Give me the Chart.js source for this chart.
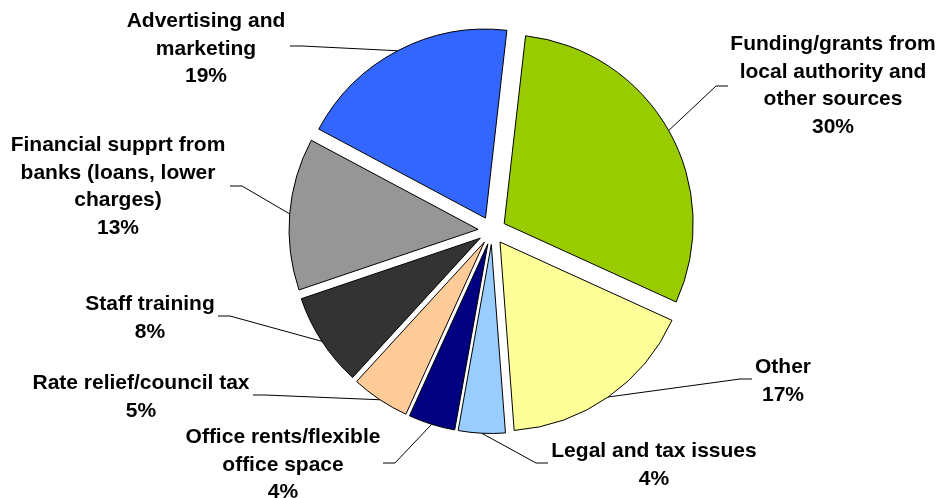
<!DOCTYPE html>
<html>
<head>
<meta charset="utf-8">
<script src="https://cdn.jsdelivr.net/npm/chart.js@4.4.1/dist/chart.umd.min.js"></script>
<style>
  html, body { margin: 0; padding: 0; background: #fff; }
  #wrap { width: 940px; height: 498px; }
</style>
</head>
<body>
<div id="wrap"><canvas id="chart" width="940" height="498"></canvas></div>
<script>
// slices, clockwise from the top
const categories = [
  ['Funding/grants from', 'local authority and', 'other sources'],
  ['Other'],
  ['Legal and tax issues'],
  ['Office rents/flexible', 'office space'],
  ['Rate relief/council tax'],
  ['Staff training'],
  ['Financial supprt from', 'banks (loans, lower', 'charges)'],
  ['Advertising and', 'marketing']
];
const values = [30, 17, 4, 4, 5, 8, 13, 19];
const colors = ['#99CC00', '#FFFF99', '#99CCFF', '#000080', '#FFCC99', '#333333', '#969696', '#3366FF'];

// label placement: centre x, top of first line, leader start and which way its stub runs
const labelPos = [
  { x: 833, top: 35,  lx: 728, ly: 86,  side: -1 },
  { x: 783, top: 358, lx: 752, ly: 379, side: -1 },
  { x: 654, top: 442, lx: 548, ly: 463, side: -1 },
  { x: 283, top: 428, lx: 383, ly: 463, side: 1 },
  { x: 141, top: 374, lx: 253, ly: 395, side: 1 },
  { x: 150, top: 295, lx: 218, ly: 316, side: 1 },
  { x: 118, top: 136, lx: 230, ly: 186, side: 1 },
  { x: 206, top: 12,  lx: 290, ly: 46,  side: 1 }
];

const EXPLODE = 14;
const LINE_H = 27.5;

// push every slice out along its middle angle without growing it
const Arc = Chart.ArcElement || Chart.elements.ArcElement;
const baseArcDraw = Arc.prototype.draw;
Arc.prototype.draw = function (ctx, area) {
  const mid = (this.startAngle + this.endAngle) / 2;
  ctx.save();
  ctx.translate(Math.cos(mid) * EXPLODE, Math.sin(mid) * EXPLODE);
  baseArcDraw.call(this, ctx, area);
  ctx.restore();
};

const pieLabels = {
  id: 'pieLabels',
  afterDatasetsDraw(chart) {
    const ctx = chart.ctx;
    const arcs = chart.getDatasetMeta(0).data;
    ctx.save();
    ctx.strokeStyle = '#000';
    ctx.fillStyle = '#000';
    ctx.lineWidth = 1;
    ctx.font = 'bold 21px "Liberation Sans", Arial, sans-serif';
    ctx.textAlign = 'center';
    ctx.textBaseline = 'alphabetic';
    arcs.forEach((arc, i) => {
      const mid = (arc.startAngle + arc.endAngle) / 2;
      const r = arc.outerRadius + EXPLODE;
      const px = arc.x + Math.cos(mid) * r;
      const py = arc.y + Math.sin(mid) * r;
      const p = labelPos[i];
      ctx.beginPath();
      ctx.moveTo(p.lx, p.ly);
      ctx.lineTo(p.lx + p.side * 12, p.ly);
      ctx.lineTo(px, py);
      ctx.stroke();
      const lines = categories[i].concat([values[i] + '%']);
      lines.forEach((t, k) => ctx.fillText(t, p.x, p.top + 15 + k * LINE_H));
    });
    ctx.restore();
  }
};

new Chart(document.getElementById('chart'), {
  type: 'pie',
  data: {
    labels: categories,
    datasets: [{
      data: values,
      backgroundColor: colors,
      borderColor: '#000',
      borderWidth: 1,
      borderJoinStyle: 'miter',
      radius: 189
    }]
  },
  options: {
    responsive: false,
    animation: false,
    events: [],
    rotation: 6.5,
    layout: { padding: { left: 44, right: 0, top: 0, bottom: 37 } },
    plugins: {
      legend: { display: false },
      tooltip: { enabled: false }
    }
  },
  plugins: [pieLabels]
});
</script>
</body>
</html>
